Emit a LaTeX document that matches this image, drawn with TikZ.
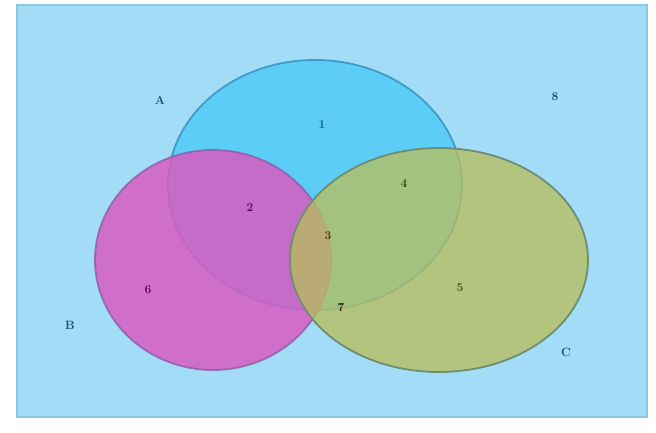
\documentclass[tikz,border=0pt]{standalone}
\usepackage{tikz}
\definecolor{bg}{HTML}{A2DCF6}
\definecolor{bgedge}{HTML}{8CC8E0}
\definecolor{setA}{HTML}{5CCDF6}
\definecolor{setB}{HTML}{D85CC2}
\definecolor{setC}{HTML}{B8BE5E}
\definecolor{lineA}{HTML}{3E9CC8}
\definecolor{lineB}{HTML}{8E5CA8}
\definecolor{lineC}{HTML}{6E8E72}
\definecolor{txt}{HTML}{1E4A68}
\tikzset{
  lbl/.style={font=\large\bfseries, inner sep=1pt},
}
\begin{document}
\begin{tikzpicture}[x=1pt,y=1pt]
\useasboundingbox (0,0) rectangle (656,432);
\fill[white] (0,0) rectangle (656,432);
\node[draw=bgedge, fill=bg, line width=2pt, minimum width=630pt, minimum height=412pt, inner sep=0pt] (frame) at (332,221) {};
% sets
\filldraw[fill=setA, draw=lineA, line width=1.8pt] (315,247) ellipse [x radius=147, y radius=125];
\filldraw[fill=setB, fill opacity=0.85, draw=lineB, draw opacity=0.8, line width=1.8pt] (213,172) ellipse [x radius=118, y radius=110];
\filldraw[fill=setC, fill opacity=0.78, draw=lineC, line width=1.8pt] (439,172) ellipse [x radius=149, y radius=112];
% labels
\node[lbl, text=txt] (la) at (160,332) {A};
\node[lbl, text=txt] (lb) at (70,107) {B};
\node[lbl, text=txt] (lc) at (566,80) {C};
\node[lbl, text=txt] (r8) at (555,335) {8};
\node[lbl, text={rgb,255:red,0;green,100;blue,140}] (r1) at (322,307) {1};
\node[lbl, text={rgb,255:red,90;green,0;blue,90}] (r2) at (250,224) {2};
\node[lbl, text={rgb,255:red,50;green,70;blue,0}] (r4) at (404,248) {4};
\node[lbl, text={rgb,255:red,80;green,55;blue,0}] (r3) at (328,196) {3};
\node[lbl, text={rgb,255:red,100;green,0;blue,90}] (r6) at (148,142) {6};
\node[lbl, text={rgb,255:red,40;green,20;blue,0}] (r7) at (341,124) {7};
\node[lbl, text={rgb,255:red,70;green,80;blue,10}] (r5) at (460,144) {5};
\end{tikzpicture}
\end{document}
